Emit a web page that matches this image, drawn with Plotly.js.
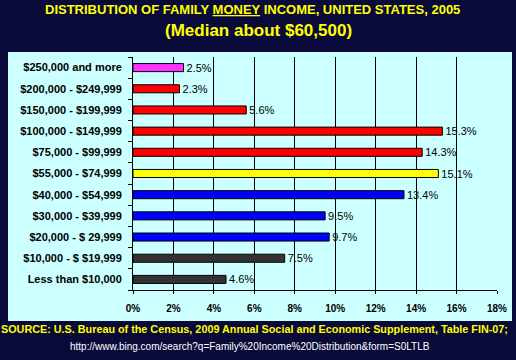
<!DOCTYPE html>
<html><head><meta charset="utf-8">
<script src="https://cdn.plot.ly/plotly-3.0.1.min.js"></script>
<style>html,body{margin:0;padding:0;background:#0a0a3a;}</style>
</head><body>
<div id="chart" style="width:516px;height:360px;"></div>
<script>
// bottom-to-top order
const categories = ["Less than $10,000", "$10,000 - $ $19,999", "$20,000 - $ 29,999", "$30,000 - $39,999",
  "$40,000 - $54,999", "$55,000 - $74,999", "$75,000 - $99,999", "$100,000 - $149,999",
  "$150,000 - $199,999", "$200,000 - $249,999", "$250,000 and more"];
const values = [4.6, 7.5, 9.7, 9.5, 13.4, 15.1, 14.3, 15.3, 5.6, 2.3, 2.5];
const barColors = ["#333333", "#333333", "#0000ff", "#0000ff", "#0000ff", "#ffff00", "#ff0000", "#ff0000", "#ff0000", "#ff0000", "#ff33ff"];
const xTicks = [0, 2, 4, 6, 8, 10, 12, 14, 16, 18];
const xTickLabels = ["0%", "2%", "4%", "6%", "8%", "10%", "12%", "14%", "16%", "18%"];

const trace = {
  type: "bar", orientation: "h",
  y: categories, x: values,
  marker: {color: barColors, line: {color: "#000", width: 1}},
  text: values.map(v => v.toFixed(1) + "%"),
  textposition: "outside",
  constraintext: "none",
  textfont: {family: "Arial, Liberation Sans", size: 11, color: "#000"},
  cliponaxis: false,
  hoverinfo: "none"
};

const layout = {
  width: 516, height: 360,
  margin: {l: 133, r: 19, t: 57, b: 70},
  paper_bgcolor: "#0a0a3a",
  plot_bgcolor: "#ffffff",
  bargap: 0.62,
  showlegend: false,
  font: {family: "Arial, Liberation Sans", color: "#000"},
  xaxis: {
    range: [0, 18], tickvals: xTicks, ticktext: xTickLabels,
    showgrid: true, gridcolor: "#000", gridwidth: 1,
    showline: true, linecolor: "#000", linewidth: 1, mirror: false,
    ticks: "outside", ticklen: 3, tickcolor: "#000",
    ticklabelstandoff: 6,
    tickfont: {family: "Arial, Liberation Sans", size: 10, color: "#000", weight: "bold"},
    zeroline: false, fixedrange: true
  },
  yaxis: {
    type: "category", categoryorder: "array", categoryarray: categories,
    showline: true, linecolor: "#000", linewidth: 1,
    ticks: "outside", ticklen: 4, tickcolor: "#000", tickson: "boundaries",
    tickfont: {family: "Arial, Liberation Sans", size: 11, color: "#000", weight: "bold"},
    ticklabelstandoff: 8,
    showgrid: false, fixedrange: true
  },
  shapes: [
    {type: "rect", xref: "paper", yref: "paper", layer: "below",
     x0: -125/364, x1: (512-133)/364, y0: -(321-290)/233, y1: 1 + 5/233,
     fillcolor: "#ccffff", line: {width: 0}}
  ],
  annotations: [
    {xref: "paper", yref: "paper", x: (252-133)/364, y: 1 + (57-10)/233, xanchor: "center", yanchor: "middle",
     text: "<b>DISTRIBUTION OF FAMILY <u>MONEY</u> INCOME, UNITED STATES, 2005</b>", showarrow: false,
     font: {family: "Arial, Liberation Sans", size: 13, color: "#ffff00"}},
    {xref: "paper", yref: "paper", x: (258-133)/364, y: 1 + (57-31)/233, xanchor: "center", yanchor: "middle",
     text: "<b>(Median about $60,500)</b>", showarrow: false,
     font: {family: "Arial, Liberation Sans", size: 17, color: "#ffff00"}},
    {xref: "paper", yref: "paper", x: (254-133)/364, y: -(329-290)/233, xanchor: "center", yanchor: "middle",
     text: "<b>SOURCE: U.S. Bureau of the Census, 2009 Annual Social and Economic Supplement, Table FIN-07;</b>", showarrow: false,
     font: {family: "Arial, Liberation Sans", size: 10.8, color: "#ffff00"}},
    {xref: "paper", yref: "paper", x: (250-133)/364, y: -(346-290)/233, xanchor: "center", yanchor: "middle",
     text: "http://www.bing.com/search?q=Family%20Income%20Distribution&form=S0LTLB", showarrow: false,
     font: {family: "Arial, Liberation Sans", size: 10, color: "#ffffff"}}
  ]
};

Plotly.newPlot("chart", [trace], layout, {displayModeBar: false, staticPlot: true});
</script>
</body></html>
